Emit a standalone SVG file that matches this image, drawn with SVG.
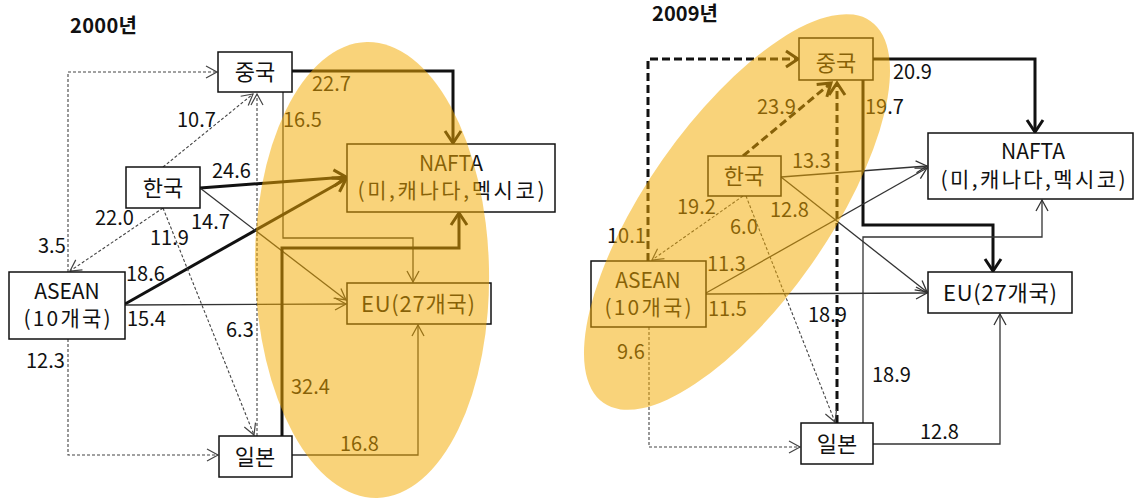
<svg xmlns="http://www.w3.org/2000/svg" width="1135" height="499" viewBox="0 0 1135 499">
<style>
text{font-family:"Noto Sans CJK KR","Liberation Sans",sans-serif;fill:#111}
.t{font-size:20px;font-weight:bold}
.n{font-size:22px;text-anchor:middle}
.n2{font-size:21px;text-anchor:middle}
.l{font-size:20px}
.box{fill:#fff;stroke:#111;stroke-width:1.5}
.th{fill:none;stroke:#111;stroke-width:3}
.tn{fill:none;stroke:#333;stroke-width:1.3}
.ds{fill:none;stroke:#444;stroke-width:1.1;stroke-dasharray:3 2}
.dk{fill:none;stroke:#111;stroke-width:3;stroke-dasharray:8 4}
.hl{fill:#F4AA00;fill-opacity:0.52}
</style>
<defs>
<marker id="aTn" markerUnits="userSpaceOnUse" markerWidth="14" markerHeight="14" refX="11" refY="6" orient="auto" overflow="visible"><path d="M0,0 L11,6 L0,12" fill="none" stroke="#333" stroke-width="1.3"/></marker>
<marker id="aDs" markerUnits="userSpaceOnUse" markerWidth="14" markerHeight="14" refX="11" refY="6" orient="auto" overflow="visible"><path d="M0,0 L11,6 L0,12" fill="none" stroke="#444" stroke-width="1.2"/></marker>
<marker id="aTh" markerUnits="userSpaceOnUse" markerWidth="18" markerHeight="18" refX="12" refY="8" orient="auto" overflow="visible"><path d="M0,0 L12,8 L0,16" fill="none" stroke="#111" stroke-width="3"/></marker>
</defs>

<text class="t" x="70" y="33" textLength="67">2000년</text>
<text class="t" x="652" y="21" textLength="66">2009년</text>

<g id="connectors">
  <!-- 2000 -->
  <path class="ds" d="M68,272 V72 H217" marker-end="url(#aDs)"/>
  <path class="ds" d="M163,167 L253,94" marker-end="url(#aDs)"/>
  <path class="ds" d="M257,436 V94" marker-end="url(#aDs)"/>
  <path class="th" d="M292,71 H453 V143" marker-end="url(#aTh)"/>
  <path class="tn" d="M283,92 V238 H413 V282" marker-end="url(#aTn)"/>
  <path class="th" d="M200,188 L346,177" marker-end="url(#aTh)"/>
  <path class="th" d="M125,304 L346,179" marker-end="url(#aTh)"/>
  <path class="tn" d="M200,188 L346,300" marker-end="url(#aTn)"/>
  <path class="tn" d="M125,305 L346,304" marker-end="url(#aTn)"/>
  <path class="th" d="M282,436 V248 H459 V213" marker-end="url(#aTh)"/>
  <path class="tn" d="M292,455 H418 V325" marker-end="url(#aTn)"/>
  <path class="ds" d="M163,208 L70,271" marker-end="url(#aDs)"/>
  <path class="ds" d="M163,208 L254,435" marker-end="url(#aDs)"/>
  <path class="ds" d="M68,339 V455 H218" marker-end="url(#aDs)"/>
  <!-- 2009 -->
  <path class="dk" d="M648,261 V59 H798" marker-end="url(#aTh)"/>
  <path class="dk" d="M743,156 L831,83" marker-end="url(#aTh)"/>
  <path class="dk" d="M837,423 V83" marker-end="url(#aTh)"/>
  <path class="th" d="M873,59 H1035 V132" marker-end="url(#aTh)"/>
  <path class="th" d="M863,80 V225 H993 V271" marker-end="url(#aTh)"/>
  <path class="tn" d="M781,177 L927,166" marker-end="url(#aTn)"/>
  <path class="tn" d="M781,177 L927,292" marker-end="url(#aTn)"/>
  <path class="tn" d="M706,293 L927,168" marker-end="url(#aTn)"/>
  <path class="tn" d="M706,294 L927,293" marker-end="url(#aTn)"/>
  <path class="tn" d="M863,423 V237 H1042 V200" marker-end="url(#aTn)"/>
  <path class="tn" d="M873,444 H1000 V314" marker-end="url(#aTn)"/>
  <path class="ds" d="M743,196 L652,260" marker-end="url(#aDs)"/>
  <path class="ds" d="M746,196 L835,422" marker-end="url(#aDs)"/>
  <path class="ds" d="M649,327 V447 H800" marker-end="url(#aDs)"/>
  <!-- labels -->
  <g>
    <text class="l" x="177" y="127">10.7</text>
    <text class="l" x="312" y="91">22.7</text>
    <text class="l" x="283" y="127">16.5</text>
    <text class="l" x="212" y="178">24.6</text>
    <text class="l" x="191" y="229">14.7</text>
    <text class="l" x="95" y="225">22.0</text>
    <text class="l" x="150" y="245">11.9</text>
    <text class="l" x="38" y="253">3.5</text>
    <text class="l" x="126" y="281">18.6</text>
    <text class="l" x="127" y="326">15.4</text>
    <text class="l" x="226" y="337">6.3</text>
    <text class="l" x="26" y="368">12.3</text>
    <text class="l" x="291" y="394">32.4</text>
    <text class="l" x="340" y="451">16.8</text>

    <text class="l" x="757" y="114">23.9</text>
    <text class="l" x="893" y="79">20.9</text>
    <text class="l" x="865" y="114">19.7</text>
    <text class="l" x="792" y="168">13.3</text>
    <text class="l" x="607" y="243">10.1</text>
    <text class="l" x="677" y="214">19.2</text>
    <text class="l" x="770" y="217">12.8</text>
    <text class="l" x="730" y="234">6.0</text>
    <text class="l" x="707" y="271">11.3</text>
    <text class="l" x="708" y="316">11.5</text>
    <text class="l" x="808" y="322">18.9</text>
    <text class="l" x="617" y="359">9.6</text>
    <text class="l" x="872" y="382">18.9</text>
    <text class="l" x="920" y="439">12.8</text>
  </g>
</g>

<g id="n2000-china"><rect class="box" x="218" y="52" width="74" height="40"/><text class="n" x="255" y="80">중국</text></g>
<g id="n2000-korea"><rect class="box" x="126" y="167" width="74" height="41"/><text class="n" x="163" y="196">한국</text></g>
<g id="n2000-asean"><rect class="box" x="9" y="272" width="116" height="67"/><text class="n2"><tspan x="67" y="299">ASEAN</tspan><tspan x="67" y="326" textLength="87">(10개국)</tspan></text></g>
<g id="n2000-japan"><rect class="box" x="219" y="436" width="73" height="41"/><text class="n" x="255" y="465">일본</text></g>
<g id="n2000-nafta"><rect class="box" x="347" y="144" width="208" height="68"/><text class="n2"><tspan x="451" y="171">NAFTA</tspan><tspan x="451" y="198" textLength="187">(미,캐나다,멕시코)</tspan></text></g>
<g id="n2000-eu"><rect class="box" x="347" y="283" width="144" height="41"/><text class="n" x="418" y="312" textLength="114">EU(27개국)</text></g>

<g id="n2009-china"><rect class="box" x="799" y="38" width="74" height="42"/><text class="n" x="836" y="71">중국</text></g>
<g id="n2009-korea"><rect class="box" x="708" y="156" width="73" height="40"/><text class="n" x="744" y="184">한국</text></g>
<g id="n2009-asean"><rect class="box" x="591" y="261" width="115" height="66"/><text class="n2"><tspan x="648" y="288">ASEAN</tspan><tspan x="648" y="315" textLength="87">(10개국)</tspan></text></g>
<g id="n2009-japan"><rect class="box" x="801" y="423" width="72" height="41"/><text class="n" x="837" y="452">일본</text></g>
<g id="n2009-nafta"><rect class="box" x="928" y="133" width="205" height="66"/><text class="n2"><tspan x="1033" y="159">NAFTA</tspan><tspan x="1033" y="187" textLength="185">(미,캐나다,멕시코)</tspan></text></g>
<g id="n2009-eu"><rect class="box" x="928" y="272" width="144" height="41"/><text class="n" x="1000" y="301" textLength="114">EU(27개국)</text></g>

<ellipse class="hl" cx="372" cy="270" rx="117" ry="228" transform="rotate(-1.3 372 270)"/>
<ellipse class="hl" cx="737" cy="212" rx="233" ry="91" transform="rotate(-55 737 212)"/>
</svg>
